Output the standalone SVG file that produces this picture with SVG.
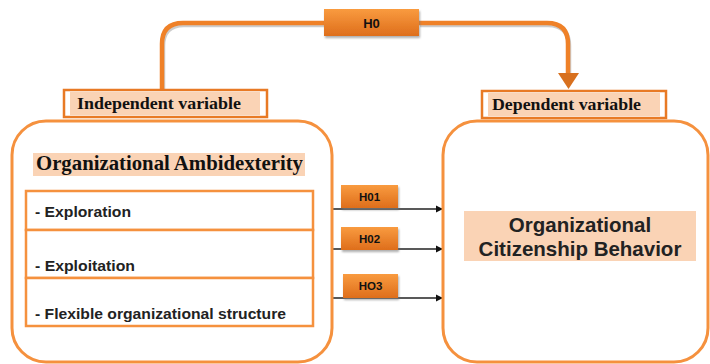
<svg xmlns="http://www.w3.org/2000/svg" width="710" height="364" viewBox="0 0 710 364">
<defs>
<linearGradient id="og" x1="0" y1="0" x2="0" y2="1">
<stop offset="0" stop-color="#F99B3F"/>
<stop offset="1" stop-color="#DE6E1C"/>
</linearGradient>
<marker id="ah" viewBox="0 0 10 10" refX="10" refY="5" markerWidth="7" markerHeight="8" markerUnits="userSpaceOnUse" orient="auto">
<path d="M0,0 L10,5 L0,10 Z" fill="#111"/>
</marker>
<filter id="sh" x="-20%" y="-20%" width="140%" height="160%">
<feDropShadow dx="1" dy="2" stdDeviation="1" flood-color="#777" flood-opacity="0.6"/>
</filter>
</defs>
<style>
.big{fill:#fff;stroke:#F5913E;stroke-width:3}
.peach{fill:#FAD3B5}
.item{fill:#fff;stroke:#F5913E;stroke-width:2.5}
.serif{font-family:"Liberation Serif","Times New Roman",serif;font-weight:bold;fill:#111}
.sans{font-family:"Liberation Sans",Arial,sans-serif;font-weight:bold;fill:#222}
.hbox{fill:url(#og);filter:url(#sh)}
.ht{font-family:"Liberation Sans",Arial,sans-serif;font-weight:bold;font-size:11.5px;fill:#111;text-anchor:middle}
.conn{stroke:#222;stroke-width:1.3;fill:none;marker-end:url(#ah)}
</style>

<g id="connectors">
<path d="M162,89 V44 Q162,23 183,23 H325 M419,23 H547 Q568,23 568,44 V74" fill="none" stroke="#999" stroke-width="4.5" transform="translate(1,2)" opacity="0.5"/>
<path d="M162,89 V44 Q162,23 183,23 H325 M419,23 H547 Q568,23 568,44 V74" fill="none" stroke="#EF8128" stroke-width="4.5"/>
<path d="M558,73 L579,73 L568.5,89 Z" fill="#D8701E"/>
<line class="conn" x1="313" y1="209" x2="443" y2="209"/>
<line class="conn" x1="313" y1="249" x2="443" y2="249"/>
<line class="conn" x1="313" y1="298" x2="443" y2="298"/>
</g>

<g id="h0">
<rect class="hbox" x="324" y="9" width="95" height="27"/>
<text class="ht" x="371.5" y="27.5" style="font-size:13px">H0</text>
</g>

<g id="independent-label">
<rect x="64" y="90" width="203" height="27" fill="#fff" stroke="#E87A25" stroke-width="2.5"/>
<rect class="peach" x="70" y="92" width="190" height="23"/>
<text class="serif" x="77" y="109" font-size="17" textLength="164" lengthAdjust="spacingAndGlyphs">Independent variable</text>
</g>

<g id="dependent-label">
<rect x="482" y="91" width="184" height="27" fill="#fff" stroke="#E87A25" stroke-width="2.5"/>
<rect class="peach" x="488" y="93" width="172" height="23"/>
<text class="serif" x="492" y="110" font-size="17" textLength="149" lengthAdjust="spacingAndGlyphs">Dependent variable</text>
</g>

<g id="independent-box">
<rect class="big" x="12" y="121" width="320" height="241" rx="34" ry="34"/>
<rect class="peach" x="33" y="153" width="272" height="23"/>
<text class="serif" x="36" y="170" font-size="20" textLength="267" lengthAdjust="spacingAndGlyphs">Organizational Ambidexterity</text>
</g>

<g id="item-exploration">
<rect class="item" x="26" y="191" width="287" height="39"/>
<text class="sans" x="35" y="217" font-size="15" textLength="96" lengthAdjust="spacingAndGlyphs">- Exploration</text>
</g>
<g id="item-exploitation">
<rect class="item" x="26" y="230" width="287" height="48"/>
<text class="sans" x="35" y="271" font-size="15" textLength="100" lengthAdjust="spacingAndGlyphs">- Exploitation</text>
</g>
<g id="item-flexible">
<rect class="item" x="26" y="278" width="287" height="48"/>
<text class="sans" x="35" y="319" font-size="15" textLength="251" lengthAdjust="spacingAndGlyphs">- Flexible organizational structure</text>
</g>

<g id="dependent-box">
<rect class="big" x="443" y="121" width="265" height="241" rx="34" ry="34"/>
<rect class="peach" x="464" y="211" width="232" height="50"/>
<text class="sans" x="580" y="232" font-size="20.5" text-anchor="middle">Organizational</text>
<text class="sans" x="580" y="256" font-size="20.5" text-anchor="middle">Citizenship Behavior</text>
</g>

<g id="h01">
<rect class="hbox" x="341" y="185" width="57" height="23"/>
<text class="ht" x="369.5" y="201">H01</text>
</g>
<g id="h02">
<rect class="hbox" x="341" y="227" width="57" height="23"/>
<text class="ht" x="369.5" y="243">H02</text>
</g>
<g id="h03">
<rect class="hbox" x="343" y="274" width="55" height="24"/>
<text class="ht" x="370.5" y="290">HO3</text>
</g>
</svg>
